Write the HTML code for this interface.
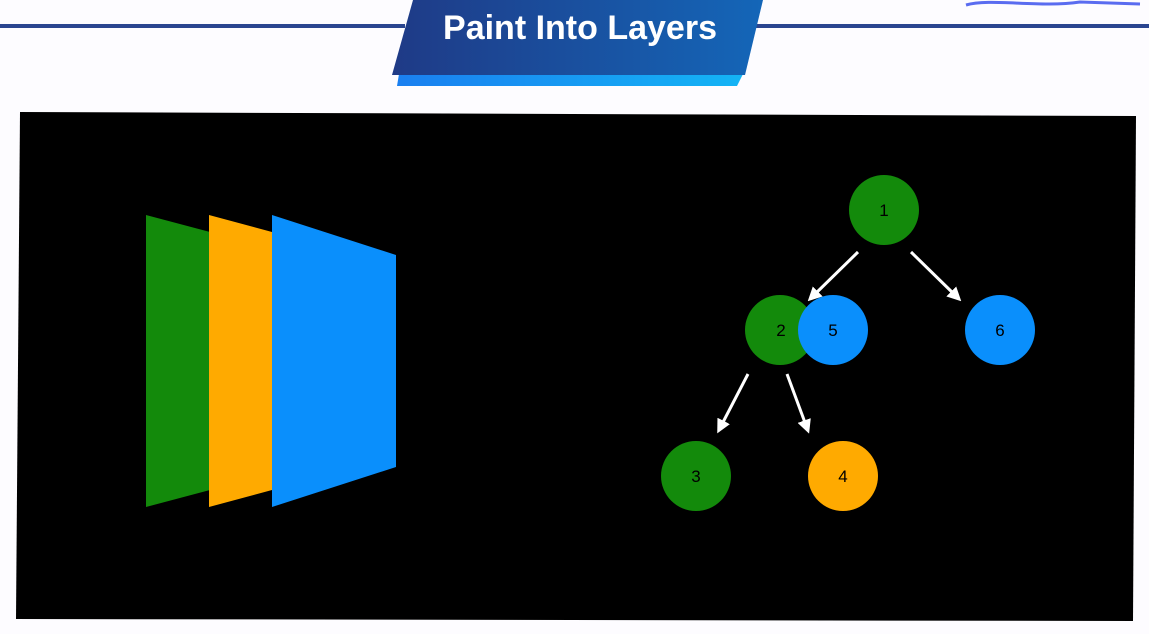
<!DOCTYPE html>
<html><head><meta charset="utf-8"><style>
body{margin:0;width:1149px;height:629px;background:#fdfcff;overflow:hidden;font-family:"Liberation Sans",sans-serif}
</style></head><body>
<svg width="1149" height="629" viewBox="0 0 1149 629">
<defs>
<linearGradient id="bg" x1="0" x2="1"><stop offset="0" stop-color="#1f3a86"/><stop offset="1" stop-color="#1466b8"/></linearGradient>
<linearGradient id="lb" x1="0" x2="1"><stop offset="0" stop-color="#1a7ff0"/><stop offset="1" stop-color="#14b4f5"/></linearGradient>
<marker id="ah" markerWidth="14" markerHeight="14" refX="8" refY="7" orient="auto" markerUnits="userSpaceOnUse"><path d="M0,0 L14,7 L0,14 Z" fill="#fff"/></marker>
</defs>
<rect x="0" y="24" width="405" height="4" fill="#2a4590"/>
<rect x="755" y="24" width="394" height="4" fill="#2a4590"/>
<path d="M966,5 C990,-2 1040,8 1080,2 L1140,4" stroke="#5a6cf0" stroke-width="3" fill="none"/>
<polygon points="399,74 743,74 737,86 397,86" fill="url(#lb)"/>
<polygon points="413,0 763,0 745,75 392,75" fill="url(#bg)"/>
<text x="580" y="39" text-anchor="middle" fill="#fff" font-size="34" font-weight="bold">Paint Into Layers</text>
<polygon points="20,112 1136,116 1133,621 16,619" fill="#000"/>
<polygon points="146,215 210,232 210,490 146,507" fill="#138a0b"/>
<polygon points="209,215 272,232 272,490 209,507" fill="#ffaa00"/>
<polygon points="272,215 396,255 396,467 272,507" fill="#0a8ffc"/>
<g stroke="#fff" stroke-width="3" marker-end="url(#ah)">
<line x1="858" y1="252" x2="812" y2="297"/>
<line x1="911" y1="252" x2="957" y2="297"/>
<line x1="748" y1="374" x2="720" y2="428"/>
<line x1="787" y1="374" x2="807" y2="428"/>
</g>
<g font-size="17" text-anchor="middle" fill="#000">
<circle cx="884" cy="210" r="35" fill="#138a0b"/><text x="884" y="216">1</text>
<circle cx="780" cy="330" r="35" fill="#138a0b"/><text x="781" y="336">2</text>
<circle cx="833" cy="330" r="35" fill="#0a8ffc"/><text x="833" y="336">5</text>
<circle cx="1000" cy="330" r="35" fill="#0a8ffc"/><text x="1000" y="336">6</text>
<circle cx="696" cy="476" r="35" fill="#138a0b"/><text x="696" y="482">3</text>
<circle cx="843" cy="476" r="35" fill="#ffaa00"/><text x="843" y="482">4</text>
</g>
</svg>
</body></html>
